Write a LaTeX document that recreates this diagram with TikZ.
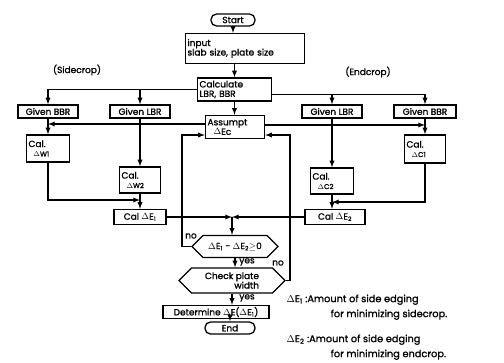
\documentclass[tikz,border=0pt]{standalone}
\usepackage{fontspec}
\setmainfont{Poppins}[FakeBold=1.3]
\usetikzlibrary{shapes.symbols, arrows.meta, calc}

\begin{document}
\begin{tikzpicture}[x=1pt, y=-1pt, >=latex, line width=1.3pt,
  font=\fontsize{9}{9.5}\selectfont,
  box/.style={draw, rectangle, inner sep=1.5pt, align=left, minimum height=13pt},
  lbox/.style={box, text width=#1, inner sep=2pt},
  term/.style={draw, rounded corners=5.5pt, inner sep=1pt, minimum height=12pt},
  hexa/.style={draw, signal, signal to=west and east, inner sep=1pt},
  lbl/.style={inner sep=0pt},
  legtxt/.style={anchor=north west, align=left, inner sep=0pt, font=\fontsize{9.8}{15}\selectfont}]

  \useasboundingbox (0,0) rectangle (504,362);

  % --- 1. Input part ---
  \node[term, minimum width=44pt] (start) at (233,20) {Start};
  \node[lbox=115pt, minimum height=30pt] (input) at (245,48.5) {input\\slab size, plate size};
  \node[lbox=70pt, minimum height=23pt] (calc) at (234.5,89.5) {Calculate\\LBR, BBR};
  \node (side) at (77,70) {(Sidecrop)};
  \node (endc) at (368,72) {(Endcrop)};

  \draw[->] (start) -- (start |- input.north);
  \draw[->] (calc.north |- input.south) -- (calc.north);

  % --- 2. Given values and assumed edging ---
  \node[box, minimum width=60pt] (gbL) at (48,111.5) {Given BBR};
  \node[box, minimum width=60pt] (glL) at (140,111.5) {Given LBR};
  \node[box, minimum width=60pt] (glR) at (332,111.5) {Given LBR};
  \node[box, minimum width=62pt] (gbR) at (425,111.5) {Given BBR};
  \node[lbox=55pt, minimum height=23pt] (asm) at (235,127) {Assumpt\\\hspace*{6pt}$\Delta$Ec};

  \coordinate (cr) at ([yshift=-5pt]calc.east);
  \draw[->] (calc.west) -| (gbL.north);
  \draw[->] (calc.west -| glL) -- (glL.north);
  \draw[->] (cr) -| (gbR.north);
  \draw[->] (cr -| glR) -- (glR.north);
  \draw[->] (calc.south) -- (calc.south |- asm.north);

  % --- 3. Side crop branch ---
  \node[lbox=39pt, minimum height=27pt] (cw1) at (48,148.5) {Cal.\\\hspace*{5pt}{\scriptsize$\Delta$W1}};
  \node[lbox=37pt, minimum height=26pt] (cw2) at (140,180) {Cal.\\\hspace*{5pt}{\scriptsize$\Delta$W2}};
  \node[box, minimum width=52pt, minimum height=15pt] (ce1) at (140,217) {Cal $\Delta$E\textsubscript{1}};
  \coordinate (j1) at (140,200);

  \draw[->] (gbL) -- (cw1);
  \draw[->] (glL) -- (cw2);
  \draw[->] (cw2) -- (ce1);
  \draw[->] (cw1.south) |- (j1);

  % --- 4. End crop branch ---
  \node[lbox=37pt, minimum height=28pt] (cc1) at (425,149) {Cal.\\\hspace*{5pt}{\scriptsize$\Delta$C1}};
  \node[lbox=39pt, minimum height=26pt] (cc2) at (332,181) {Cal.\\\hspace*{5pt}{\scriptsize$\Delta$C2}};
  \node[box, minimum width=60pt, minimum height=15pt] (ce2) at (335,217) {Cal $\Delta$E\textsubscript{2}};
  \coordinate (j2) at (332,202);

  \draw[->] (gbR) -- (cc1);
  \draw[->] (glR) -- (cc2);
  \draw[->] (cc2.south) -- (cc2.south |- ce2.north);
  \draw[->] (cc1.south) |- (j2);

  % assumed value fed to both branches
  \coordinate (al) at ([yshift=3pt]asm.west);
  \coordinate (ar) at ([yshift=2pt]asm.east);
  \draw[->] (al) -- (al -| gbL);
  \draw[->] (ar) -- (ar -| gbR);
  \fill (al -| glL) circle (1.7pt);
  \fill (ar -| glR) circle (1.7pt);

  % --- 5. Comparison and loops ---
  \node[hexa, minimum width=86pt, minimum height=22pt] (dec) at (235,246.5) {$\Delta$E\textsubscript{1} - $\Delta$E\textsubscript{2}$\geq$0};
  \node[hexa, minimum width=106pt, minimum height=25pt, align=right] (chk) at (232,280.5) {Check plate\\width};
  \node[box, minimum width=106pt] (det) at (216,312) {Determine $\Delta$E($\Delta$E\textsubscript{1})};
  \node[term, minimum width=50pt] (end) at (230,328) {End};

  \coordinate (mrg) at (232,217);
  \coordinate (ll) at (182,0);
  \coordinate (rl) at (290,0);
  \coordinate (al2) at ([yshift=-8pt]asm.west);
  \coordinate (ar2) at ([yshift=-8pt]asm.east);

  \draw[->] (ce1) -- (mrg);
  \draw[->] (ce2) -- (mrg);
  \draw[->] (mrg) -- (mrg |- dec.north);
  \draw[->] (dec.west) -| (ll |- al2) -- (al2);
  \draw[->] (chk.east) -| (rl |- ar2) -- (ar2);
  \fill (ll |- mrg) circle (1.9pt);
  \fill (rl |- mrg) circle (1.9pt);
  \draw[->] (dec.south) -- (dec.south |- chk.north);
  \draw[->] (chk.south) -- (chk.south |- det.north);
  \draw[->] (end |- det.south) -- (end.north);

  \node[lbl] (no1) at (191,236) {no};
  \node[lbl] (yes1) at (247,262) {yes};
  \node[lbl] (no2) at (278,263) {no};
  \node[lbl] (yes2) at (247,298) {yes};

  % --- 6. Legend ---
  \node[legtxt] (leg1) at (286,294) {$\Delta$E\textsubscript{1} :Amount of side edging\\\hspace*{44pt}for minimizing sidecrop.};
  \node[legtxt] (leg2) at (286,334) {$\Delta$E\textsubscript{2} :Amount of side edging\\\hspace*{44pt}for minimizing endcrop.};

\end{tikzpicture}
\end{document}
